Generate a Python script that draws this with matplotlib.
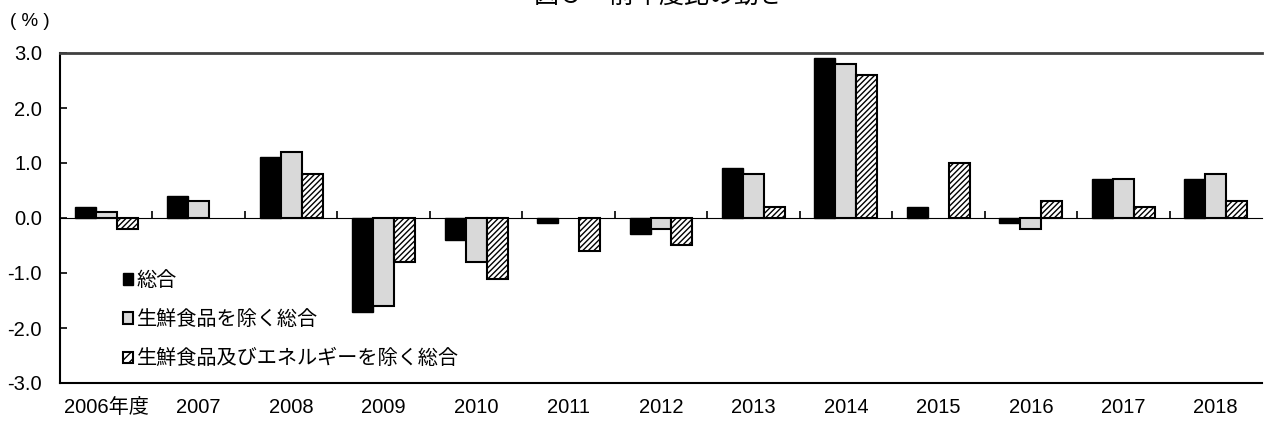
import matplotlib.pyplot as plt
import matplotlib.patches as mpatches
import numpy as np

plt.rcParams['font.family'] = ['Liberation Sans', 'Noto Sans CJK JP']

# 年度
years = ['2006年度', '2007', '2008', '2009', '2010', '2011', '2012',
         '2013', '2014', '2015', '2016', '2017', '2018']
# 前年度比 (%)
sogo = [0.2, 0.4, 1.1, -1.7, -0.4, -0.1, -0.3, 0.9, 2.9, 0.2, -0.1, 0.7, 0.7]
core = [0.1, 0.3, 1.2, -1.6, -0.8, 0.0, -0.2, 0.8, 2.8, 0.0, -0.2, 0.7, 0.8]
core_core = [-0.2, 0.0, 0.8, -0.8, -1.1, -0.6, -0.5, 0.2, 2.6, 1.0, 0.3, 0.2, 0.3]
labels = ['総合', '生鮮食品を除く総合', '生鮮食品及びエネルギーを除く総合']
yticks = [-3.0, -2.0, -1.0, 0.0, 1.0, 2.0, 3.0]

plt.rcParams['hatch.linewidth'] = 1.0

fig = plt.figure(figsize=(12.64, 4.25), dpi=100)
ax = fig.add_axes([60 / 1264, 1 - 383 / 425, 1202 / 1264, 330 / 425])

x = np.arange(len(years)) + 0.5
w = 0.227
# 値が0の棒は枠線なし
lw = lambda vals: [0 if v == 0 else 1.5 for v in vals]
ax.bar(x - w, sogo, w, color='black', edgecolor='black', linewidth=1)
ax.bar(x, core, w, color='#d9d9d9', edgecolor='black', linewidth=lw(core))
ax.bar(x + w, core_core, w, color='white', edgecolor='black',
       linewidth=lw(core_core), hatch='//////')

ax.set_xlim(0, len(years))
ax.set_ylim(-3, 3)
ax.set_yticks(yticks)
ax.set_yticklabels(['%.1f' % v for v in yticks])
ax.tick_params(axis='y', direction='in', length=5, width=1.2, pad=13,
               labelsize=14.5)
ax.set_xticks(x)
ax.set_xticklabels(years)
ax.tick_params(axis='x', length=0, pad=11, labelsize=14.5)

ax.spines['right'].set_visible(False)
ax.spines['top'].set_color('#404040')
ax.spines['top'].set_linewidth(2)
ax.spines['left'].set_linewidth(1.5)
ax.spines['bottom'].set_linewidth(1.5)

# 0の線と区切りの目盛り
sec = ax.secondary_xaxis(0.5)
sec.set_xticks(np.arange(1, len(years)))
sec.set_xticklabels([])
sec.tick_params(axis='x', direction='out', length=5, width=1.2)
sec.spines['bottom'].set_linewidth(2)

handles = [
    mpatches.Patch(facecolor='black', edgecolor='black', label=labels[0]),
    mpatches.Patch(facecolor='#d9d9d9', edgecolor='black', linewidth=1.5,
                   label=labels[1]),
    mpatches.Patch(facecolor='white', edgecolor='black', linewidth=1.5,
                   hatch='////', label=labels[2]),
]
ax.legend(handles=handles, loc='upper left', bbox_to_anchor=(0.046, 0.364),
          frameon=False, fontsize=14.5, handlelength=0.5, handleheight=0.5,
          handletextpad=0.15, labelspacing=1.0, borderaxespad=0)

fig.text(0.008, 1 - 21 / 425, '( % )', fontsize=13.5, va='center')
fig.text(0.521, 1 + 4 / 425, '図５　前年度比の動き', fontsize=18,
         ha='center', va='center')

fig.savefig('out.png')
